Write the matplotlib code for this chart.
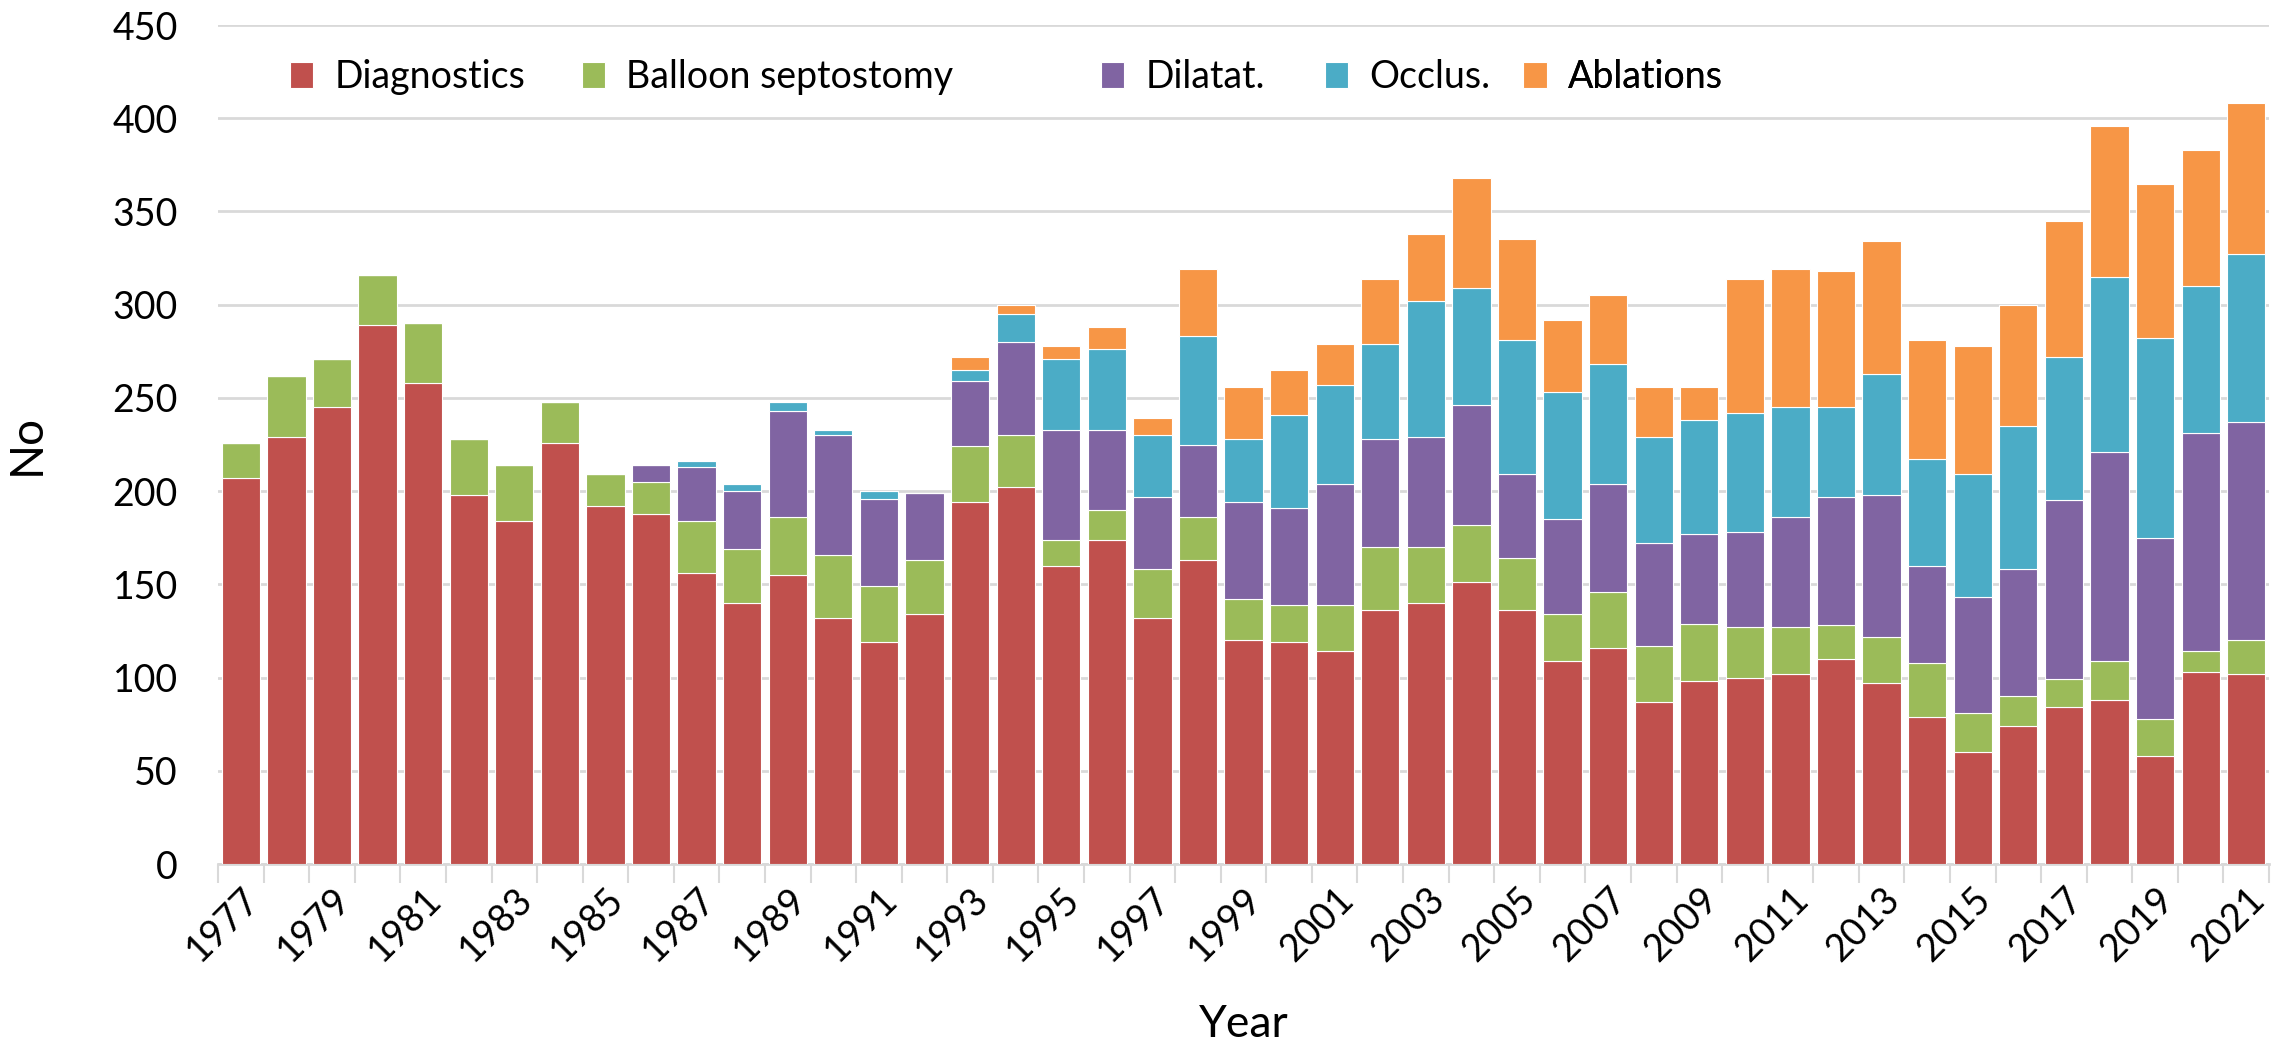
import matplotlib
matplotlib.use("Agg")
import matplotlib.pyplot as plt
import numpy as np

plt.rcParams['font.family'] = ['Lato', 'DejaVu Sans']

# data
years = list(range(1977, 2022))
diagnostics = [207, 229, 245, 289, 258, 198, 184, 226, 192, 188,
               156, 140, 155, 132, 119, 134, 194, 202, 160, 174,
               132, 163, 120, 119, 114, 136, 140, 151, 136, 109,
               116, 87, 98, 100, 102, 110, 97, 79, 60, 74,
               84, 88, 58, 103, 102]
balloon = [19, 33, 26, 27, 32, 30, 30, 22, 17, 17,
           28, 29, 31, 34, 30, 29, 30, 28, 14, 16,
           26, 23, 22, 20, 25, 34, 30, 31, 28, 25,
           30, 30, 31, 27, 25, 18, 25, 29, 21, 16,
           15, 21, 20, 11, 18]
dilatat = [0, 0, 0, 0, 0, 0, 0, 0, 0, 9,
           29, 31, 57, 64, 47, 36, 35, 50, 59, 43,
           39, 39, 52, 52, 65, 58, 59, 64, 45, 51,
           58, 55, 48, 51, 59, 69, 76, 52, 62, 68,
           96, 112, 97, 117, 117]
occlus = [0, 0, 0, 0, 0, 0, 0, 0, 0, 0,
          3, 4, 5, 3, 4, 0, 6, 15, 38, 43,
          33, 58, 34, 50, 53, 51, 73, 63, 72, 68,
          64, 57, 61, 64, 59, 48, 65, 57, 66, 77,
          77, 94, 107, 79, 90]
ablations = [0, 0, 0, 0, 0, 0, 0, 0, 0, 0,
             0, 0, 0, 0, 0, 0, 7, 5, 7, 12,
             9, 36, 28, 24, 22, 35, 36, 59, 54, 39,
             37, 27, 18, 72, 74, 73, 71, 64, 69, 65,
             73, 81, 83, 73, 81]

series = [("Diagnostics", diagnostics, "#C0504D"),
          ("Balloon septostomy", balloon, "#9BBB59"),
          ("Dilatat.", dilatat, "#8064A2"),
          ("Occlus.", occlus, "#4BACC6"),
          ("Ablations", ablations, "#F79646")]

# legend entry positions (axes fraction), like the original's uneven layout
legend_x = [0.0351, 0.1775, 0.4306, 0.5398, 0.6364]

fig = plt.figure(figsize=(22.88, 10.43), dpi=100)
ax = fig.add_axes([0.0953, 0.1716, 0.8964, 0.8044])

x = np.arange(len(years))
bottom = np.zeros(len(years))
bars = []
for name, vals, col in series:
    vals = np.array(vals)
    b = ax.bar(x, vals, width=0.84, bottom=bottom, color=col, label=name,
               edgecolor="white", linewidth=0.8, zorder=3)
    bars.append(b)
    bottom += vals

ax.set_ylim(0, 450)
ax.set_xlim(-0.5, len(years) - 0.5)
ax.set_yticks(range(0, 451, 50))
ax.yaxis.grid(True, color="#D9D9D9", linewidth=2, zorder=0)
ax.tick_params(axis="y", length=0, labelsize=27, pad=29)

ax.set_xticks(x[::2])
ax.set_xticklabels(years[::2], rotation=45, ha="right", rotation_mode="anchor")
ax.set_xticks(np.arange(-0.5, len(years)), minor=True)
ax.tick_params(axis="x", which="major", length=0, labelsize=27, pad=12)
ax.tick_params(axis="x", which="minor", length=14, width=1.5, color="#D9D9D9")

for s in ["top", "right", "left"]:
    ax.spines[s].set_visible(False)
ax.spines["bottom"].set_color("#D9D9D9")
ax.spines["bottom"].set_linewidth(2)

ax.set_ylabel("No", fontsize=33)
ax.yaxis.set_label_coords(-0.083, 0.5)
ax.set_xlabel("Year", fontsize=32, labelpad=26)

for b, (name, _, _), lx in zip(bars, series, legend_x):
    leg = ax.legend([b], [name], loc="center left", bbox_to_anchor=(lx, 0.938),
                    frameon=False, fontsize=27, handlelength=0.62,
                    handleheight=0.72, handletextpad=0.56,
                    borderpad=0, borderaxespad=0)
    ax.add_artist(leg)

plt.savefig("out.png", dpi=100)
